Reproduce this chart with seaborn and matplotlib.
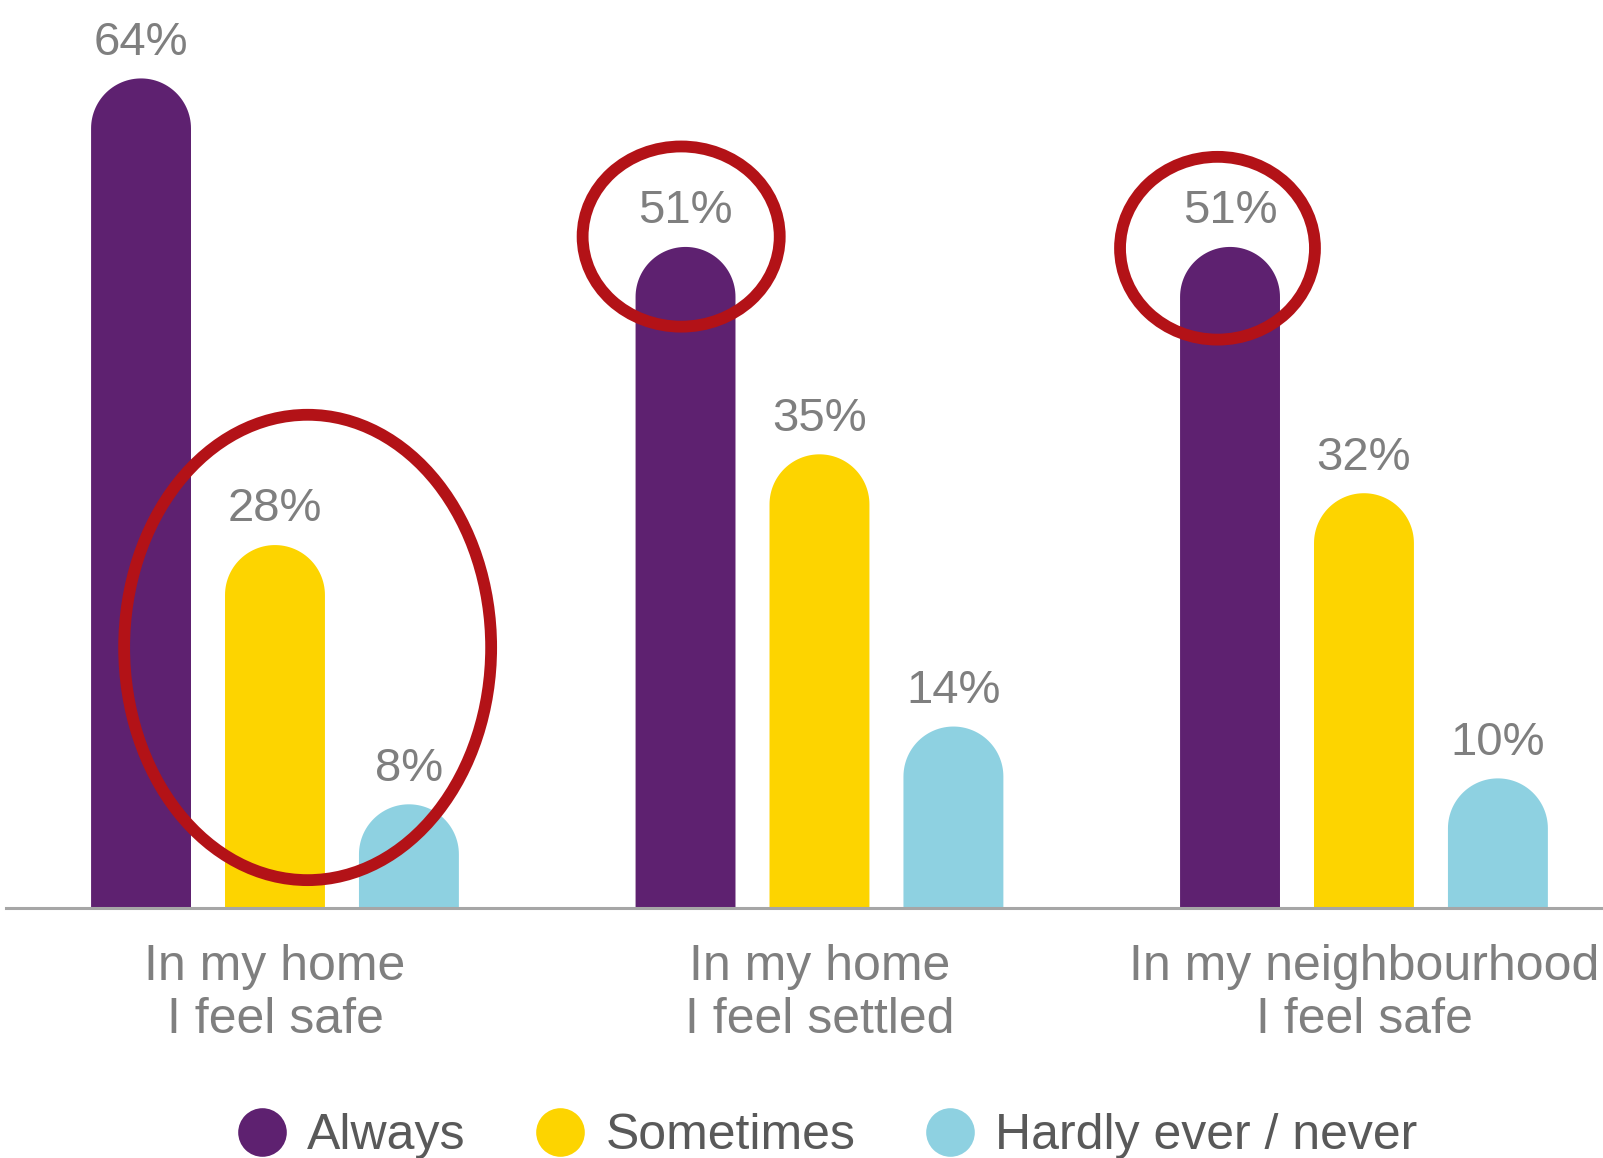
import numpy as np
import pandas as pd
import matplotlib
matplotlib.use("Agg")
import matplotlib.pyplot as plt
import seaborn as sns
from matplotlib.patches import Polygon, Ellipse
from matplotlib.lines import Line2D

# ---- data ----
categories = ["In my home\nI feel safe", "In my home\nI feel settled", "In my neighbourhood\nI feel safe"]
series = ["Always", "Sometimes", "Hardly ever / never"]
always = [64, 51, 51]
sometimes = [28, 35, 32]
hardly = [8, 14, 10]
colors = ["#5E2170", "#FDD400", "#8ED1E1"]

# highlight ellipses: (category index, x offset, y centre, width, height) in data units
highlight_cat = [0, 1, 2]
highlight_dx = [0.060, -0.254, -0.269]
highlight_y = [20.1, 51.8, 50.9]
highlight_w = [0.674, 0.362, 0.358]
highlight_h = [35.9, 13.9, 14.1]

df = pd.DataFrame({
    "category": categories * 3,
    "series": [series[0]] * 3 + [series[1]] * 3 + [series[2]] * 3,
    "value": always + sometimes + hardly,
})

sns.set_theme(style="white")
plt.rcParams["font.family"] = ["Liberation Sans", "DejaVu Sans"]

W, H = 1603, 1158
fig = plt.figure(figsize=(W / 100, H / 100), dpi=100)
ax = fig.add_axes([6 / W, 1 - 908 / H, 1 - 6 / W, 908 / H])

sns.barplot(data=df, x="category", y="value", hue="series", order=categories,
            hue_order=series, palette=colors, width=0.738, gap=0.254,
            legend=False, ax=ax, saturation=1)

ax.set_xlim(-0.494, 2.439)
ax.set_ylim(0, 70.05)

# convert bars into rounded-top bars
ppx = ax.transData.transform((1, 0))[0] - ax.transData.transform((0, 0))[0]
ppy = ax.transData.transform((0, 1))[1] - ax.transData.transform((0, 0))[1]
bars = list(ax.patches)
for p in bars:
    x0, w, h = p.get_x(), p.get_width(), p.get_height()
    fc = p.get_facecolor()
    p.set_visible(False)
    rx = w / 2
    ry = rx * ppx / ppy
    xc = x0 + rx
    th = np.linspace(0, np.pi, 60)
    arc = np.column_stack([xc + rx * np.cos(th), (h - ry) + ry * np.sin(th)])
    pts = np.vstack([[x0 + w, 0], arc, [x0, 0]])
    ax.add_patch(Polygon(pts, closed=True, facecolor=fc, edgecolor="none", zorder=2))
    ax.annotate(f"{int(round(h))}%", (xc, h), xytext=(0, 17), textcoords="offset points",
                ha="center", va="baseline", fontsize=34, color="#7F7F7F", zorder=5)

# axes styling
for s in ["top", "right", "left"]:
    ax.spines[s].set_visible(False)
ax.spines["bottom"].set_color("#A6A6A6")
ax.spines["bottom"].set_linewidth(2.2)
ax.set_yticks([])
ax.set_xlabel("")
ax.set_ylabel("")
ax.tick_params(axis="x", length=0, pad=26, labelsize=36, labelcolor="#7F7F7F")
for t in ax.get_xticklabels():
    t.set_linespacing(1.2)

# highlight ellipses
for c, dx, yc, ew, eh in zip(highlight_cat, highlight_dx, highlight_y, highlight_w, highlight_h):
    ax.add_patch(Ellipse((c + dx, yc), ew, eh, fill=False, edgecolor="#B31217",
                         linewidth=8.5, zorder=6, clip_on=False))

# legend
handles = [Line2D([], [], marker="o", linestyle="", markersize=35, markerfacecolor=col,
                  markeredgecolor="none") for col in colors]
fig.legend(handles, series, loc="center", bbox_to_anchor=(0.516, 1 - 1136 / H), ncol=3,
           frameon=False, fontsize=36, handlelength=1.0, handletextpad=0.4,
           columnspacing=1.4, labelcolor="#595959", borderpad=0, borderaxespad=0)

fig.savefig("out.png", dpi=100)
